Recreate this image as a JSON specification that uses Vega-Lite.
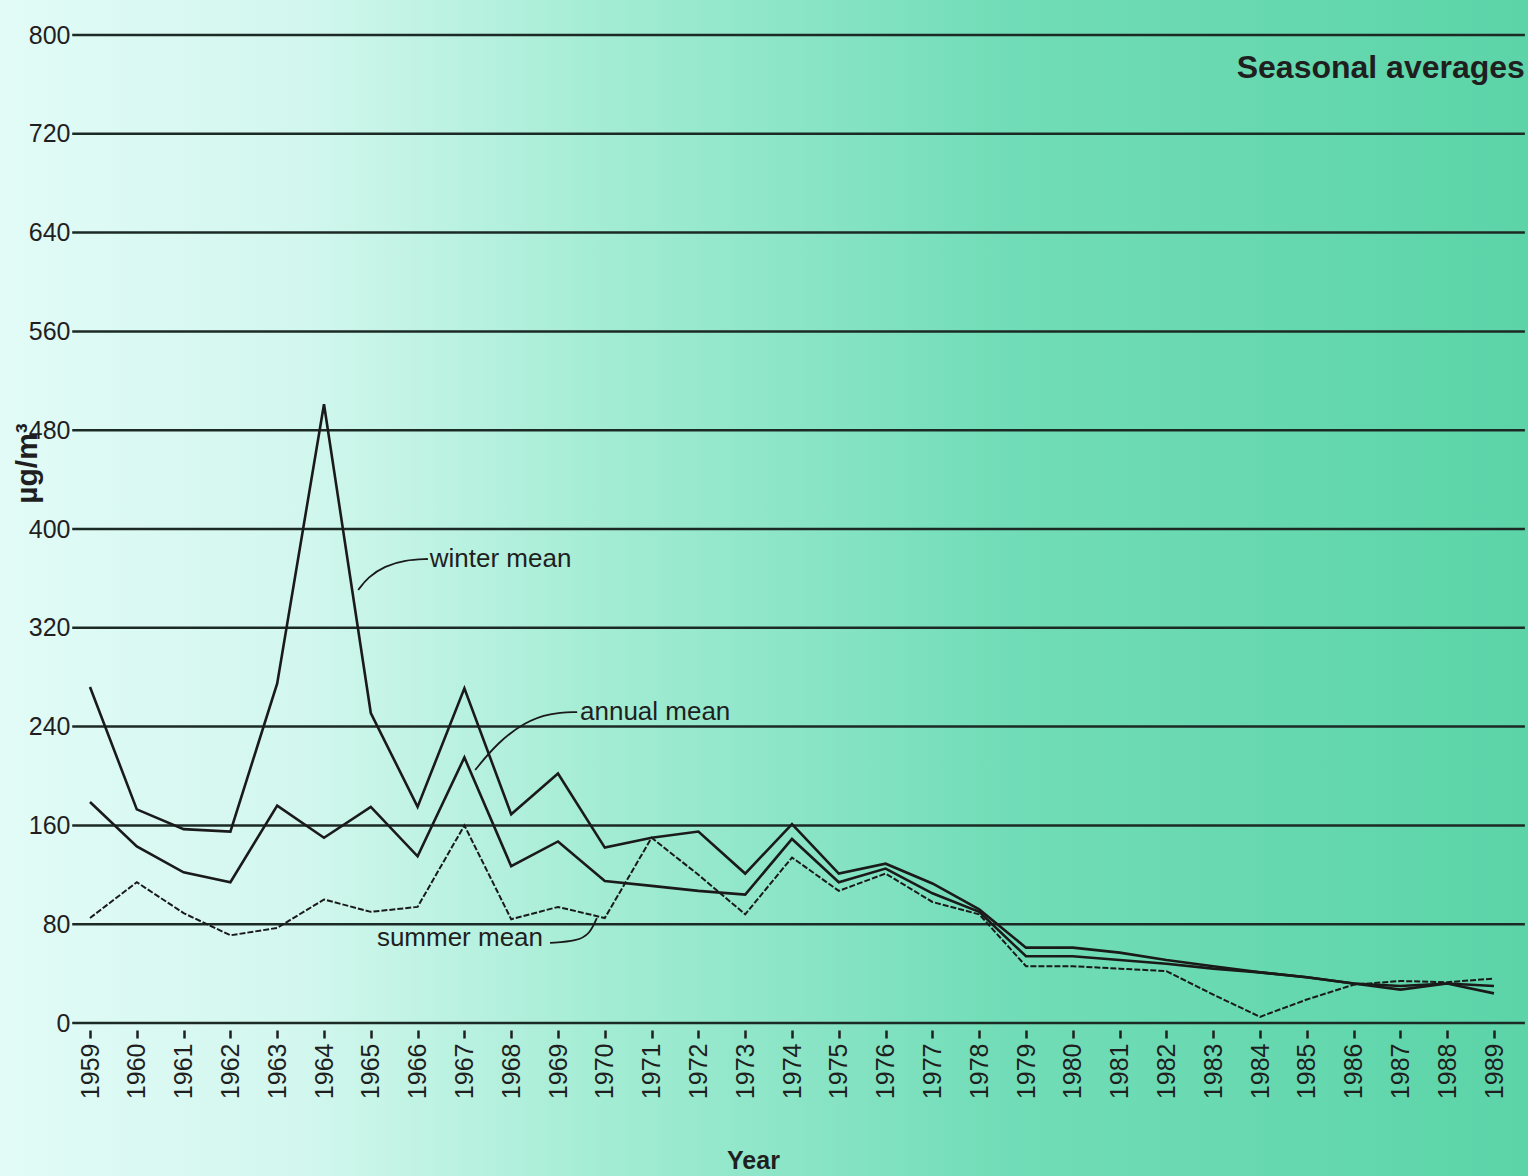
{
  "$schema": "https://vega.github.io/schema/vega-lite/v6.json",
  "width": 1528,
  "height": 1176,
  "padding": 0,
  "autosize": {"type": "none"},
  "background": "#bdf2e0",
  "view": {
    "stroke": null,
    "fill": {
      "gradient": "linear", "x1": 0, "y1": 0, "x2": 1, "y2": 0,
      "stops": [
        {"offset": 0, "color": "#e2fbf7"},
        {"offset": 0.2, "color": "#d2f7ee"},
        {"offset": 0.4, "color": "#a2ecd3"},
        {"offset": 0.65, "color": "#72ddb8"},
        {"offset": 1, "color": "#5cd4a8"}
      ]
    }
  },
  "config": {"font": "Liberation Sans"},
  "datasets": {
    "grid": [{"v": 0}, {"v": 80}, {"v": 160}, {"v": 240}, {"v": 320}, {"v": 400}, {"v": 480}, {"v": 560}, {"v": 640}, {"v": 720}, {"v": 800}],
    "series": [
      {"year": 1959, "series": "winter", "value": 272}, {"year": 1960, "series": "winter", "value": 173}, {"year": 1961, "series": "winter", "value": 157}, {"year": 1962, "series": "winter", "value": 155}, {"year": 1963, "series": "winter", "value": 275}, {"year": 1964, "series": "winter", "value": 501}, {"year": 1965, "series": "winter", "value": 251}, {"year": 1966, "series": "winter", "value": 175}, {"year": 1967, "series": "winter", "value": 271}, {"year": 1968, "series": "winter", "value": 169}, {"year": 1969, "series": "winter", "value": 202}, {"year": 1970, "series": "winter", "value": 142}, {"year": 1971, "series": "winter", "value": 150}, {"year": 1972, "series": "winter", "value": 155}, {"year": 1973, "series": "winter", "value": 121}, {"year": 1974, "series": "winter", "value": 161}, {"year": 1975, "series": "winter", "value": 121}, {"year": 1976, "series": "winter", "value": 129}, {"year": 1977, "series": "winter", "value": 113}, {"year": 1978, "series": "winter", "value": 92}, {"year": 1979, "series": "winter", "value": 61}, {"year": 1980, "series": "winter", "value": 61}, {"year": 1981, "series": "winter", "value": 57}, {"year": 1982, "series": "winter", "value": 51}, {"year": 1983, "series": "winter", "value": 46}, {"year": 1984, "series": "winter", "value": 41}, {"year": 1985, "series": "winter", "value": 37}, {"year": 1986, "series": "winter", "value": 32}, {"year": 1987, "series": "winter", "value": 27}, {"year": 1988, "series": "winter", "value": 32}, {"year": 1989, "series": "winter", "value": 24},
      {"year": 1959, "series": "annual", "value": 179}, {"year": 1960, "series": "annual", "value": 143}, {"year": 1961, "series": "annual", "value": 122}, {"year": 1962, "series": "annual", "value": 114}, {"year": 1963, "series": "annual", "value": 176}, {"year": 1964, "series": "annual", "value": 150}, {"year": 1965, "series": "annual", "value": 175}, {"year": 1966, "series": "annual", "value": 135}, {"year": 1967, "series": "annual", "value": 215}, {"year": 1968, "series": "annual", "value": 127}, {"year": 1969, "series": "annual", "value": 147}, {"year": 1970, "series": "annual", "value": 115}, {"year": 1971, "series": "annual", "value": 111}, {"year": 1972, "series": "annual", "value": 107}, {"year": 1973, "series": "annual", "value": 104}, {"year": 1974, "series": "annual", "value": 149}, {"year": 1975, "series": "annual", "value": 114}, {"year": 1976, "series": "annual", "value": 125}, {"year": 1977, "series": "annual", "value": 105}, {"year": 1978, "series": "annual", "value": 90}, {"year": 1979, "series": "annual", "value": 54}, {"year": 1980, "series": "annual", "value": 54}, {"year": 1981, "series": "annual", "value": 51}, {"year": 1982, "series": "annual", "value": 48}, {"year": 1983, "series": "annual", "value": 44}, {"year": 1984, "series": "annual", "value": 41}, {"year": 1985, "series": "annual", "value": 37}, {"year": 1986, "series": "annual", "value": 32}, {"year": 1987, "series": "annual", "value": 30}, {"year": 1988, "series": "annual", "value": 32}, {"year": 1989, "series": "annual", "value": 30},
      {"year": 1959, "series": "summer", "value": 85}, {"year": 1960, "series": "summer", "value": 114}, {"year": 1961, "series": "summer", "value": 89}, {"year": 1962, "series": "summer", "value": 71}, {"year": 1963, "series": "summer", "value": 77}, {"year": 1964, "series": "summer", "value": 100}, {"year": 1965, "series": "summer", "value": 90}, {"year": 1966, "series": "summer", "value": 94}, {"year": 1967, "series": "summer", "value": 160}, {"year": 1968, "series": "summer", "value": 84}, {"year": 1969, "series": "summer", "value": 94}, {"year": 1970, "series": "summer", "value": 85}, {"year": 1971, "series": "summer", "value": 150}, {"year": 1972, "series": "summer", "value": 120}, {"year": 1973, "series": "summer", "value": 88}, {"year": 1974, "series": "summer", "value": 134}, {"year": 1975, "series": "summer", "value": 107}, {"year": 1976, "series": "summer", "value": 121}, {"year": 1977, "series": "summer", "value": 98}, {"year": 1978, "series": "summer", "value": 88}, {"year": 1979, "series": "summer", "value": 46}, {"year": 1980, "series": "summer", "value": 46}, {"year": 1981, "series": "summer", "value": 44}, {"year": 1982, "series": "summer", "value": 42}, {"year": 1983, "series": "summer", "value": 23}, {"year": 1984, "series": "summer", "value": 5}, {"year": 1985, "series": "summer", "value": 19}, {"year": 1986, "series": "summer", "value": 31}, {"year": 1987, "series": "summer", "value": 34}, {"year": 1988, "series": "summer", "value": 33}, {"year": 1989, "series": "summer", "value": 36}
    ],
    "labels": [
      {"label": "winter mean", "year": 1966.26, "value": 375.7},
      {"label": "annual mean", "year": 1969.47, "value": 251.8},
      {"label": "summer mean", "year": 1965.13, "value": 68.8}
    ],
    "heading": [{"label": "Seasonal averages", "year": 1989.66, "value": 773.3}],
    "leaders": [
      {"g": "winter", "o": 1, "year": 1964.73, "value": 350.6}, {"g": "winter", "o": 2, "year": 1964.94, "value": 361.1}, {"g": "winter", "o": 3, "year": 1965.30, "value": 370.0}, {"g": "winter", "o": 4, "year": 1965.73, "value": 374.9}, {"g": "winter", "o": 5, "year": 1966.22, "value": 375.7},
      {"g": "annual", "o": 1, "year": 1967.23, "value": 204.9}, {"g": "annual", "o": 2, "year": 1967.70, "value": 226.7}, {"g": "annual", "o": 3, "year": 1968.29, "value": 243.7}, {"g": "annual", "o": 4, "year": 1968.83, "value": 251.0}, {"g": "annual", "o": 5, "year": 1969.41, "value": 251.8},
      {"g": "summer", "o": 1, "year": 1968.83, "value": 64.8}, {"g": "summer", "o": 2, "year": 1969.41, "value": 66.4}, {"g": "summer", "o": 3, "year": 1969.68, "value": 72.1}, {"g": "summer", "o": 4, "year": 1969.83, "value": 85.0}
    ]
  },
  "layer": [
    {
      "data": {"name": "grid"},
      "mark": {"type": "rule", "stroke": "#1c2a25", "strokeWidth": 2.5},
      "encoding": {
        "y": {
          "field": "v", "type": "quantitative", "title": "µg/m³",
          "scale": {"domain": [0, 800], "range": [1023, 35], "nice": false, "zero": false},
          "axis": {
            "orient": "left", "offset": -72,
            "values": [0, 80, 160, 240, 320, 400, 480, 560, 640, 720, 800],
            "domain": false, "ticks": false, "tickSize": 0, "grid": false,
            "labelPadding": 2, "labelFontSize": 25, "labelColor": "#1f1f1f",
            "title": "µg/m³", "titleFontSize": 30, "titleFontWeight": "bold", "titleColor": "#1f1f1f",
            "titleX": -45, "titleY": 463, "titleAngle": 270, "titleAlign": "center", "titleBaseline": "middle"
          }
        },
        "x": {
          "datum": 1958.62, "type": "quantitative", "title": "Year",
          "scale": {"domain": [1959, 1989], "range": [90, 1494], "nice": false, "zero": false},
          "axis": {
            "orient": "bottom", "offset": -146,
            "values": [1959, 1960, 1961, 1962, 1963, 1964, 1965, 1966, 1967, 1968, 1969, 1970, 1971, 1972, 1973, 1974, 1975, 1976, 1977, 1978, 1979, 1980, 1981, 1982, 1983, 1984, 1985, 1986, 1987, 1988, 1989],
            "format": "d", "domain": false, "grid": false,
            "ticks": true, "tickSize": 8, "tickWidth": 2.5, "tickColor": "#1f1f1f",
            "labelAngle": 270, "labelAlign": "right", "labelBaseline": "middle", "labelPadding": 5,
            "labelFontSize": 25, "labelColor": "#1f1f1f", "labelOverlap": false, "labelFlush": false,
            "title": "Year", "titleFontSize": 25, "titleFontWeight": "bold", "titleColor": "#1f1f1f",
            "titleX": 753, "titleY": 130, "titleAlign": "center", "titleBaseline": "middle"
          }
        },
        "x2": {"datum": 1989.66}
      }
    },
    {
      "data": {"name": "series"},
      "transform": [{"filter": "datum.series !== 'summer'"}],
      "mark": {"type": "line", "stroke": "#1a1a1a", "strokeWidth": 2.6},
      "encoding": {
        "x": {"field": "year", "type": "quantitative", "title": "Year"},
        "y": {"field": "value", "type": "quantitative", "title": "µg/m³"},
        "detail": {"field": "series"}
      }
    },
    {
      "data": {"name": "series"},
      "transform": [{"filter": "datum.series === 'summer'"}],
      "mark": {"type": "line", "stroke": "#1a1a1a", "strokeWidth": 2, "strokeDash": [6, 2]},
      "encoding": {
        "x": {"field": "year", "type": "quantitative", "title": "Year"},
        "y": {"field": "value", "type": "quantitative", "title": "µg/m³"}
      }
    },
    {
      "data": {"name": "leaders"},
      "mark": {"type": "line", "stroke": "#1a1a1a", "strokeWidth": 1.8, "interpolate": "basis"},
      "encoding": {
        "x": {"field": "year", "type": "quantitative", "title": "Year"},
        "y": {"field": "value", "type": "quantitative", "title": "µg/m³"},
        "detail": {"field": "g"},
        "order": {"field": "o"}
      }
    },
    {
      "data": {"name": "labels"},
      "mark": {"type": "text", "align": "left", "baseline": "middle", "fontSize": 26, "color": "#1f1f1f"},
      "encoding": {
        "x": {"field": "year", "type": "quantitative", "title": "Year"},
        "y": {"field": "value", "type": "quantitative", "title": "µg/m³"},
        "text": {"field": "label"}
      }
    },
    {
      "data": {"name": "heading"},
      "mark": {"type": "text", "align": "right", "baseline": "middle", "fontSize": 32, "fontWeight": "bold", "color": "#1f1f1f"},
      "encoding": {
        "x": {"field": "year", "type": "quantitative", "title": "Year"},
        "y": {"field": "value", "type": "quantitative", "title": "µg/m³"},
        "text": {"field": "label"}
      }
    }
  ]
}
